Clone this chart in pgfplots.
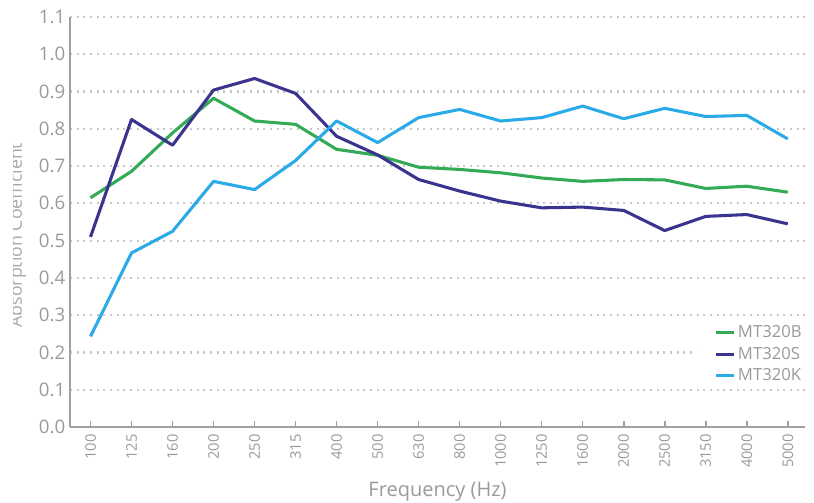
\documentclass[border=0pt]{standalone}
\usepackage{pgfplots}
\pgfplotsset{compat=1.18}
\usepackage{fontspec}
\setmainfont{Open Sans}
\definecolor{cgreen}{HTML}{33AA55}
\definecolor{cdark}{HTML}{3A348F}
\definecolor{cblue}{HTML}{2AABE8}
\definecolor{txtgray}{HTML}{9A9A9A}
\definecolor{axgray}{HTML}{A0A0A0}
\definecolor{gridgray}{HTML}{C8C8C8}
\begin{document}
\begin{tikzpicture}
\begin{axis}[
  scale only axis,
  width=551.25pt, height=307.5pt,
  xmin=-0.5, xmax=17.42,
  ymin=0, ymax=1.1,
  axis x line*=bottom, axis y line*=left,
  axis line style={draw=axgray, line width=1.4pt, -},
  xtick={0,...,17},
  xticklabels={100,125,160,200,250,315,400,500,630,800,1000,1250,1600,2000,2500,3150,4000,5000},
  xticklabel style={rotate=90, anchor=east, font=\fontsize{11}{13}\selectfont, text=txtgray, xshift=-2pt},
  x tick style={draw=axgray, line width=1.2pt},
  tick align=inside,
  major tick length=4.5pt,
  ytick={0,0.1,...,1.1},
  y tick style={draw=none},
  yticklabel style={font=\fontsize{14}{16}\selectfont, text=txtgray, /pgf/number format/fixed, /pgf/number format/fixed zerofill, /pgf/number format/precision=1},
  /pgf/number format/assume math mode=true,
  ymajorgrids,
  major grid style={draw=gridgray, line width=1.6pt, dash pattern=on 1.6pt off 3.4pt},
  xlabel={Frequency (Hz)},
  xlabel style={at={(axis description cs:0.5,-0.1585)}, anchor=center, font=\fontsize{15}{17}\selectfont, text=txtgray},
  ylabel={Absorption Coefficient},
  ylabel style={at={(axis description cs:-0.0653,0.468)}, anchor=base, rotate=0, font=\fontsize{13.3}{15}\selectfont, text=txtgray!85},
  legend style={at={(rel axis cs:1.023,0.2575)}, anchor=north east, draw=none, fill=white, font=\fontsize{12.5}{14}\selectfont, text=txtgray, row sep=1.5pt, inner xsep=13pt, inner ysep=1pt},
  legend cell align=left,
  legend image code/.code={\draw[#1] (0pt,0pt) -- (13.5pt,0pt);},
  every axis plot/.append style={line width=2.3pt, line join=round},
]
\addplot[cgreen, mark=none] coordinates {(0,0.615)(1,0.686)(2,0.789)(3,0.882)(4,0.821)(5,0.812)(6,0.745)(7,0.729)(8,0.697)(9,0.691)(10,0.682)(11,0.668)(12,0.659)(13,0.664)(14,0.663)(15,0.640)(16,0.646)(17,0.630)};
\addlegendentry{MT320B}
\addplot[cdark, mark=none] coordinates {(0,0.510)(1,0.825)(2,0.756)(3,0.904)(4,0.935)(5,0.895)(6,0.780)(7,0.730)(8,0.664)(9,0.633)(10,0.606)(11,0.588)(12,0.590)(13,0.581)(14,0.527)(15,0.565)(16,0.570)(17,0.545)};
\addlegendentry{MT320S}
\addplot[cblue, mark=none] coordinates {(0,0.243)(1,0.467)(2,0.525)(3,0.659)(4,0.637)(5,0.715)(6,0.821)(7,0.763)(8,0.830)(9,0.852)(10,0.821)(11,0.830)(12,0.861)(13,0.827)(14,0.855)(15,0.833)(16,0.836)(17,0.773)};
\addlegendentry{MT320K}
\end{axis}
\fill[white] (-53pt,-58pt) rectangle (-42.75pt,321pt);
\pgfresetboundingbox
\path[use as bounding box] (-52.5pt,-57pt) rectangle (558pt,320.25pt);
\end{tikzpicture}
\end{document}
